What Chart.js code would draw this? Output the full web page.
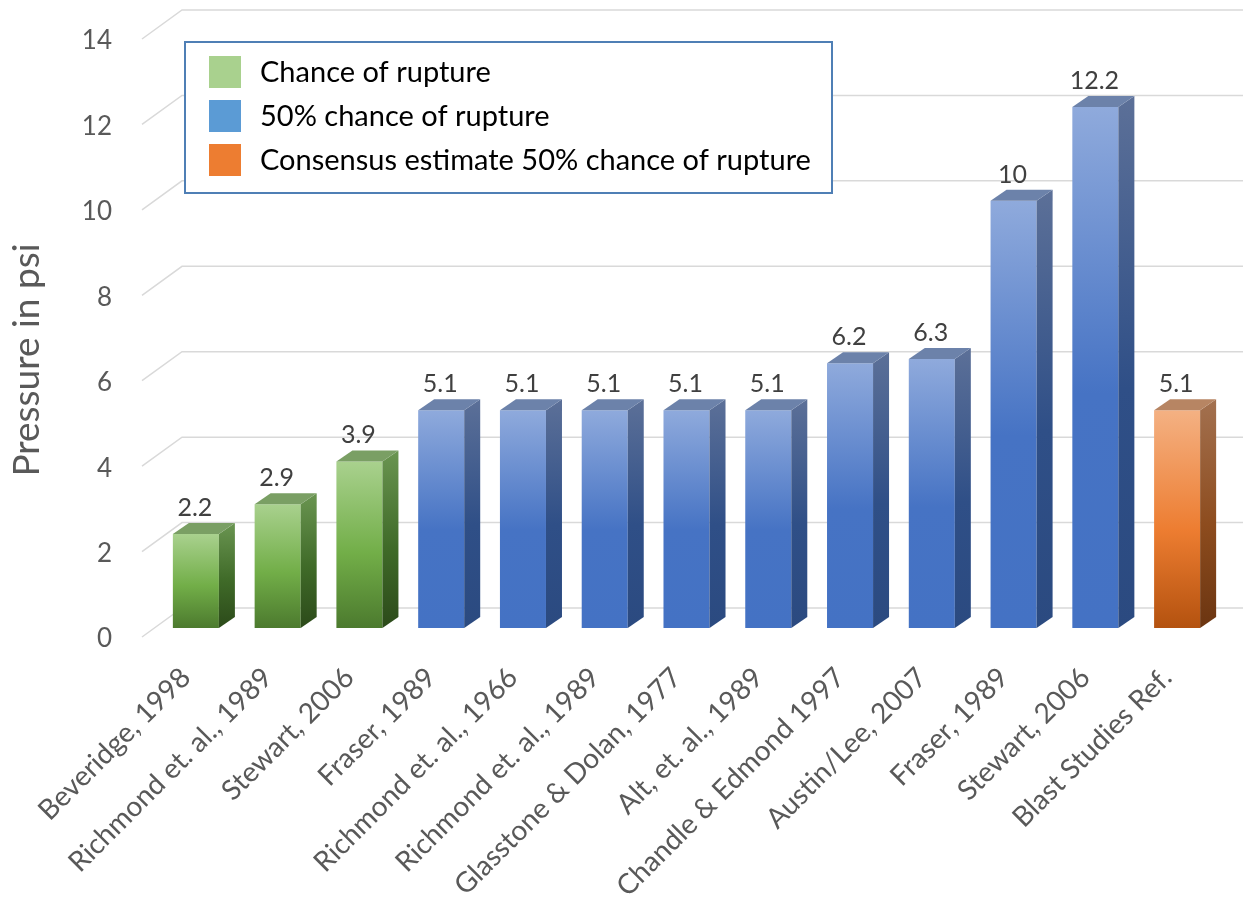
<!DOCTYPE html>
<html>
<head>
<meta charset="utf-8">
<title>Blast pressure for eardrum rupture</title>
<script src="https://cdn.jsdelivr.net/npm/chart.js@4/dist/chart.umd.min.js"></script>
<style>
  html, body { margin: 0; padding: 0; background: #ffffff; }
  canvas { display: block; }
</style>
</head>
<body>
<canvas id="chart" width="1243" height="902"></canvas>
<script>
// ---- data ----
const categories = [
  'Beveridge, 1998', 'Richmond et. al., 1989', 'Stewart, 2006', 'Fraser, 1989',
  'Richmond et. al., 1966', 'Richmond et. al., 1989', 'Glasstone & Dolan, 1977',
  'Alt, et. al., 1989', 'Chandle & Edmond 1997', 'Austin/Lee, 2007',
  'Fraser, 1989', 'Stewart, 2006', 'Blast Studies Ref.'
];
const chanceOfRupture     = [2.2, 2.9, 3.9, null, null, null, null, null, null, null, null, null, null];
const fiftyPercentRupture = [null, null, null, 5.1, 5.1, 5.1, 5.1, 5.1, 6.2, 6.3, 10, 12.2, null];
const consensusEstimate   = [null, null, null, null, null, null, null, null, null, null, null, null, 5.1];
const seriesNames = ['Chance of rupture', '50% chance of rupture', 'Consensus estimate 50% chance of rupture'];
const yTicks = [0, 2, 4, 6, 8, 10, 12, 14];
const yTitle = 'Pressure in psi';

// ---- styles ----
const FONT = 'Lato, "Open Sans", sans-serif';
const palette = {
  green:  { swatch: '#A9D18E', front: ['#A9D18E', '#72AE48', '#4C7A2E'], side: ['#6A9551', '#3F6A28', '#2C4A1A'], top: '#7A9F64' },
  blue:   { swatch: '#5B9BD5', front: ['#8FAADC', '#4673C4', '#4472C4'], side: ['#5C7098', '#2F4F87', '#2B4A80'], top: '#6C82AA' },
  orange: { swatch: '#ED7D31', front: ['#F4B183', '#ED7D31', '#B4520F'], side: ['#A37150', '#8D4C1E', '#6B3511'], top: '#B78563' }
};
const depth = { dx: 16, dy: -11 };          // receding offset of bar side/top faces
const gridDepth = { front: { dx: -13, dy: 9 }, back: { dx: 27, dy: -20 } };

function verticalGradient(c, top, bottom, stops) {
  const g = c.createLinearGradient(0, top, 0, bottom);
  g.addColorStop(0, stops[0]);
  g.addColorStop(0.55, stops[1]);
  g.addColorStop(1, stops[2]);
  return g;
}

function frontFill(style) {
  return (ctx) => {
    const chart = ctx.chart;
    const y = chart.scales && chart.scales.y;
    if (!y || ctx.raw == null || !isFinite(y.getPixelForValue(0))) return style.front[1];
    return verticalGradient(chart.ctx, y.getPixelForValue(ctx.raw), y.getPixelForValue(0), style.front);
  };
}

// 3D grid walls, bar side/top faces, value labels, legend box and axis title
const bar3d = {
  id: 'bar3d',
  beforeDatasetsDraw(chart) {
    const { ctx, chartArea, scales } = chart;
    ctx.save();
    ctx.strokeStyle = '#D9D9D9';
    ctx.lineWidth = 1.5;
    yTicks.forEach(v => {
      const py = scales.y.getPixelForValue(v);
      ctx.beginPath();
      ctx.moveTo(chartArea.left + gridDepth.front.dx, py + gridDepth.front.dy);
      ctx.lineTo(chartArea.left + gridDepth.back.dx, py + gridDepth.back.dy);
      ctx.lineTo(chart.width, py + gridDepth.back.dy);
      ctx.stroke();
    });
    ctx.restore();
  },
  afterDatasetsDraw(chart) {
    const { ctx } = chart;
    const styles = [palette.green, palette.blue, palette.orange];
    chart.data.datasets.forEach((ds, di) => {
      const meta = chart.getDatasetMeta(di);
      const st = styles[di];
      meta.data.forEach((bar, i) => {
        const v = ds.data[i];
        if (v == null) return;
        const { x, y, base, width } = bar.getProps(['x', 'y', 'base', 'width'], true);
        const l = x - width / 2, r = x + width / 2;
        ctx.save();
        // right side face
        ctx.fillStyle = verticalGradient(ctx, y + depth.dy, base, st.side);
        ctx.beginPath();
        ctx.moveTo(r, y);
        ctx.lineTo(r + depth.dx, y + depth.dy);
        ctx.lineTo(r + depth.dx, base + depth.dy);
        ctx.lineTo(r, base);
        ctx.closePath();
        ctx.fill();
        // top face
        ctx.fillStyle = st.top;
        ctx.beginPath();
        ctx.moveTo(l, y);
        ctx.lineTo(l + depth.dx, y + depth.dy);
        ctx.lineTo(r + depth.dx, y + depth.dy);
        ctx.lineTo(r, y);
        ctx.closePath();
        ctx.fill();
        // value label
        ctx.fillStyle = '#404040';
        ctx.font = '25px ' + FONT;
        ctx.textAlign = 'center';
        ctx.textBaseline = 'middle';
        ctx.fillText(String(v), x - 1, y - 26);
        ctx.restore();
      });
    });
  },
  afterDraw(chart) {
    const { ctx, chartArea, scales } = chart;
    // legend
    const bx = chartArea.left + 30, by = chartArea.top + 12, bw = 647, bh = 151;
    ctx.save();
    ctx.fillStyle = '#FFFFFF';
    ctx.fillRect(bx, by, bw, bh);
    ctx.strokeStyle = '#4F7FB5';
    ctx.lineWidth = 2;
    ctx.strokeRect(bx, by, bw, bh);
    const swatches = [palette.green.swatch, palette.blue.swatch, palette.orange.swatch];
    chart.data.datasets.forEach((ds, i) => {
      const ry = by + 14 + i * 44;
      ctx.fillStyle = swatches[i];
      ctx.fillRect(bx + 24, ry, 32, 32);
      ctx.fillStyle = '#000000';
      ctx.font = '29px ' + FONT;
      ctx.textAlign = 'left';
      ctx.textBaseline = 'middle';
      ctx.fillText(ds.label, bx + 75, ry + 17);
    });
    // y axis title
    ctx.translate(27, (scales.y.top + scales.y.bottom) / 2 + 31);
    ctx.rotate(-Math.PI / 2);
    ctx.fillStyle = '#595959';
    ctx.font = '37px ' + FONT;
    ctx.textAlign = 'center';
    ctx.textBaseline = 'middle';
    ctx.fillText(yTitle, 0, 0);
    ctx.restore();
  }
};

const common = { grouped: false, categoryPercentage: 1, barPercentage: 0.563, borderWidth: 0 };

new Chart(document.getElementById('chart'), {
  type: 'bar',
  data: {
    labels: categories,
    datasets: [
      Object.assign({ label: seriesNames[0], data: chanceOfRupture,     backgroundColor: frontFill(palette.green)  }, common),
      Object.assign({ label: seriesNames[1], data: fiftyPercentRupture, backgroundColor: frontFill(palette.blue)   }, common),
      Object.assign({ label: seriesNames[2], data: consensusEstimate,   backgroundColor: frontFill(palette.orange) }, common)
    ]
  },
  options: {
    responsive: false,
    animation: false,
    devicePixelRatio: 1,
    layout: { padding: { top: 30, right: 25, bottom: 0, left: 0 } },
    plugins: { legend: { display: false }, tooltip: { enabled: false } },
    scales: {
      x: {
        grid: { display: false, drawTicks: false },
        border: { display: false },
        ticks: {
          autoSkip: false, minRotation: 45, maxRotation: 45,
          padding: 33, labelOffset: -10,
          color: '#595959', font: { family: FONT, size: 28 }
        },
        afterFit(scale) {
          scale.height = 274;
          scale.paddingLeft = 0; scale.paddingRight = 0;
        }
      },
      y: {
        min: 0, max: 14,
        grid: { display: false, drawTicks: false },
        border: { display: false },
        ticks: {
          padding: 43, labelOffset: 11,
          color: '#595959', font: { family: FONT, size: 26 }
        },
        afterBuildTicks(scale) { scale.ticks = yTicks.map(v => ({ value: v })); },
        afterFit(scale) {
          scale.width = 155;
          scale.paddingTop = 0; scale.paddingBottom = 0;
        }
      }
    }
  },
  plugins: [bar3d]
});
</script>
</body>
</html>
